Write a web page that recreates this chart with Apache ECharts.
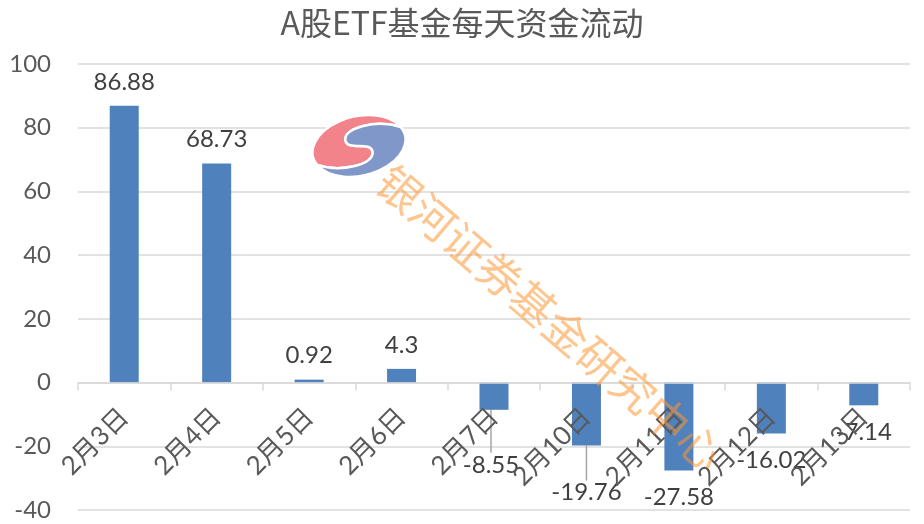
<!DOCTYPE html>
<html>
<head>
<meta charset="utf-8">
<script src="https://cdn.jsdelivr.net/npm/echarts@6/dist/echarts.min.js"></script>
<style>
html,body{margin:0;padding:0;background:#fff;}
#c{width:924px;height:524px;}
</style>
</head>
<body>
<div id="c"></div>
<script>
const titleText = 'A股ETF基金每天资金流动';
const categories = ['2月3日','2月4日','2月5日','2月6日','2月7日','2月10日','2月11日','2月12日','2月13日'];
const flows = [86.88, 68.73, 0.92, 4.3, -8.55, -19.76, -27.58, -16.02, -7.14];
const yTicks = { min: -40, max: 100, interval: 20 };
const watermarkText = '银河证券基金研究中心';

const chart = echarts.init(document.getElementById('c'));
const latin = 'Lato, "Noto Sans CJK SC", sans-serif';

const sPath = 'M 45 -9 C 24 -22, -12 -22, -12 -8 C -12 2, 12 -2, 12 8 C 12 22, -24 22, -45 9';
const logoSvg =
  '<svg xmlns="http://www.w3.org/2000/svg" width="100" height="70" viewBox="-50 -35 100 70">' +
  '<g transform="rotate(-13)">' +
  '<path d="' + sPath + ' A 46 29 0 0 1 45 -9 Z" fill="#F2838B" stroke="#fff" stroke-width="2.5"/>' +
  '<path d="' + sPath + ' A 46 29 0 0 0 45 -9 Z" fill="#7F97C9" stroke="#fff" stroke-width="2.5"/>' +
  '</g></svg>';
const logoUri = 'data:image/svg+xml;charset=utf-8,' + encodeURIComponent(logoSvg);

// Excel moved two data labels further down (with leader lines)
const movedLabels = { 4: { dx: -3, dy: 28 }, 5: { dx: 0, dy: 20 } };

const option = {
  animation: false,
  backgroundColor: '#ffffff',
  title: {
    text: titleText,
    left: 'center',
    top: 2,
    textStyle: { fontFamily: '"Noto Sans CJK SC", sans-serif', fontSize: 32, fontWeight: 'normal', color: '#595959' }
  },
  grid: { left: 78, right: 14, top: 64, bottom: 14, containLabel: false, outerBoundsMode: 'none' },
  xAxis: {
    type: 'category',
    data: categories,
    axisLine: { onZero: false, lineStyle: { color: '#D9D9D9', width: 1.5 } },
    axisTick: { show: true, length: 8, lineStyle: { color: '#D9D9D9', width: 1.5 } },
    axisLabel: { rotate: 45, margin: 30, fontSize: 26, color: '#595959', fontFamily: latin, interval: 0 },
    splitLine: { show: false },
    z: 3
  },
  yAxis: {
    type: 'value',
    min: yTicks.min, max: yTicks.max, interval: yTicks.interval,
    axisLine: { show: false },
    axisTick: { show: false },
    axisLabel: { fontSize: 24, color: '#595959', fontFamily: latin, margin: 27 },
    splitLine: { lineStyle: { color: '#D9D9D9', width: 1.5 } }
  },
  series: [{
    type: 'bar',
    data: flows.map((v, i) => ({
      value: v,
      label: { position: v >= 0 ? 'top' : 'bottom', distance: v >= 0 ? 12 : 15 },
      labelLine: { show: !!movedLabels[i] }
    })),
    barWidth: 29,
    itemStyle: { color: '#4F81BD' },
    label: { show: true, fontSize: 24, color: '#404040', fontFamily: latin },
    labelLayout: function (p) {
      return movedLabels[p.dataIndex] || {};
    },
    labelLine: { show: false, lineStyle: { color: '#A6A6A6', width: 1.5 } },
    z: 2
  }],
  graphic: [
    {
      type: 'image',
      x: 309, y: 111,
      z: 100,
      style: { image: logoUri, width: 100, height: 70 }
    },
    {
      type: 'text',
      x: 550, y: 318,
      rotation: -0.709,
      z: 100,
      style: {
        text: watermarkText,
        fontSize: 44,
        fontFamily: '"Noto Sans CJK SC", sans-serif',
        fill: 'rgba(255,150,50,0.55)',
        align: 'center',
        verticalAlign: 'middle'
      }
    }
  ]
};
chart.setOption(option);
// Place the category axis (line, ticks and labels) on the zero line, using the value scale
const zeroY = chart.convertToPixel({ yAxisIndex: 0 }, 0);
const bottomY = chart.convertToPixel({ yAxisIndex: 0 }, yTicks.min);
chart.setOption({ xAxis: { offset: zeroY - bottomY } });
</script>
</body>
</html>
